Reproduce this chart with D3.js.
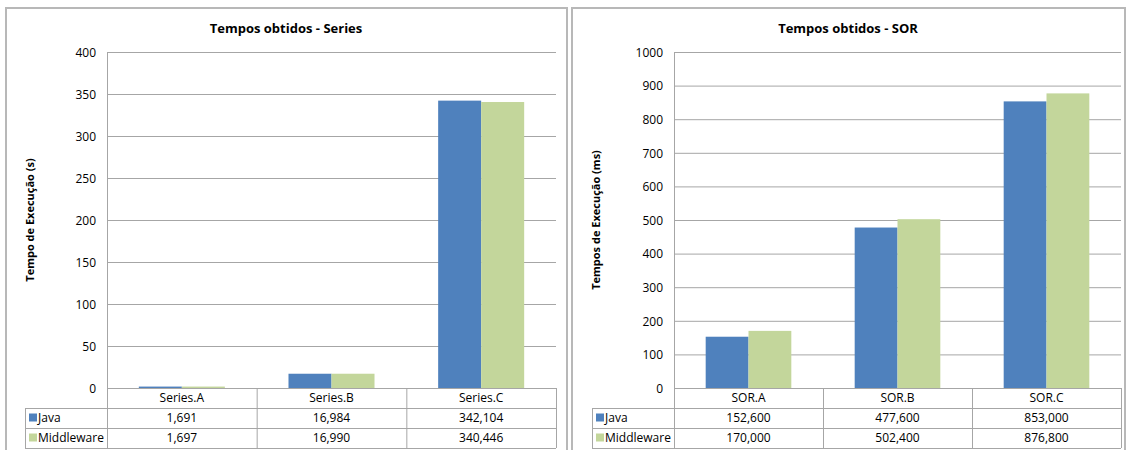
<!DOCTYPE html>
<html>
<head>
<meta charset="utf-8">
<script src="https://cdn.jsdelivr.net/npm/d3@7"></script>
<style>
  html, body { margin: 0; padding: 0; background: #fff; }
  svg { display: block; }
  text { font-family: "Open Sans", "Noto Sans", sans-serif; fill: #000; }
</style>
</head>
<body>
<svg id="chart" width="1129" height="450"></svg>
<script>
// Execution times, Series benchmark (seconds)
const seriesCategories = ["Series.A", "Series.B", "Series.C"];
const seriesJava = [1.691, 16.984, 342.104];
const seriesMiddleware = [1.697, 16.990, 340.446];
const seriesTicks = [0, 50, 100, 150, 200, 250, 300, 350, 400];

// Execution times, SOR benchmark (milliseconds)
const sorCategories = ["SOR.A", "SOR.B", "SOR.C"];
const sorJava = [152.6, 477.6, 853.0];
const sorMiddleware = [170.0, 502.4, 876.8];
const sorTicks = [0, 100, 200, 300, 400, 500, 600, 700, 800, 900, 1000];

const seriesNames = ["Java", "Middleware"];
const colors = ["#4F81BD", "#C3D69B"];

// Portuguese number format: comma as decimal separator
const pt = d3.formatLocale({ decimal: ",", thousands: ".", grouping: [3], currency: ["", ""] });
const fmt3 = pt.format(".3f");

const svg = d3.select("#chart");

function drawPanel(cfg) {
  const g = svg.append("g");
  const gridColor = "#a6a6a6";

  // outer frame
  g.append("rect")
    .attr("x", cfg.frame[0]).attr("y", cfg.frame[1])
    .attr("width", cfg.frame[2] - cfg.frame[0]).attr("height", cfg.frame[3] - cfg.frame[1])
    .attr("fill", "none").attr("stroke", "#b8b8b8").attr("stroke-width", 2);

  const x = d3.scaleBand().domain(cfg.categories).range([cfg.left, cfg.right]);
  const y = d3.scaleLinear().domain([0, d3.max(cfg.ticks)]).range([cfg.bottom, cfg.top]);
  const sub = d3.scaleBand().domain(seriesNames)
    .range([0, x.bandwidth()]).paddingOuter(0.74).paddingInner(0);

  // gridlines + tick labels via axis
  const yAxis = d3.axisLeft(y).tickValues(cfg.ticks).tickSize(cfg.right - cfg.left).tickFormat(d3.format("d"));
  const ya = g.append("g").attr("transform", `translate(${cfg.right},0)`).call(yAxis);
  ya.select(".domain").remove();
  ya.selectAll(".tick line").attr("stroke", gridColor).attr("stroke-width", 1);
  ya.selectAll(".tick text")
    .attr("x", -(cfg.right - cfg.left) - 11)
    .attr("dy", "0.35em")
    .style("font-size", "12px")
    .style("font-family", "'Open Sans', sans-serif");

  // bars
  const data = cfg.categories.map((c, i) => ({ c, vals: [cfg.java[i], cfg.mid[i]] }));
  const groups = g.selectAll(".grp").data(data).join("g")
    .attr("transform", d => `translate(${x(d.c)},0)`);
  groups.selectAll("rect").data(d => d.vals.map((v, k) => ({ v, k }))).join("rect")
    .attr("x", d => sub(seriesNames[d.k]))
    .attr("y", d => y(d.v))
    .attr("width", sub.bandwidth())
    .attr("height", d => y(0) - y(d.v))
    .attr("fill", d => colors[d.k]);

  // value axis line
  g.append("line")
    .attr("x1", cfg.left + 0.5).attr("x2", cfg.left + 0.5)
    .attr("y1", cfg.top).attr("y2", cfg.bottom + 3 * cfg.rowH)
    .attr("stroke", gridColor);

  // data table
  const rowY = [cfg.bottom, cfg.bottom + cfg.rowH, cfg.bottom + 2 * cfg.rowH, cfg.bottom + 3 * cfg.rowH];
  const tbl = g.append("g").attr("stroke", gridColor).attr("stroke-width", 1);
  tbl.append("line").attr("x1", cfg.left).attr("x2", cfg.right).attr("y1", rowY[0] + 0.5).attr("y2", rowY[0] + 0.5);
  [1, 2, 3].forEach(r => {
    tbl.append("line").attr("x1", cfg.legendLeft).attr("x2", cfg.right)
      .attr("y1", rowY[r] + 0.5).attr("y2", rowY[r] + 0.5);
  });
  tbl.append("line").attr("x1", cfg.legendLeft + 0.5).attr("x2", cfg.legendLeft + 0.5)
    .attr("y1", rowY[1]).attr("y2", rowY[3]);
  cfg.categories.forEach(c => {
    const xe = x(c) + x.bandwidth();
    tbl.append("line").attr("x1", xe + 0.5).attr("x2", xe + 0.5).attr("y1", rowY[0]).attr("y2", rowY[3]);
  });

  // category labels
  g.selectAll(".cat").data(cfg.categories).join("text")
    .attr("x", d => x(d) + x.bandwidth() / 2)
    .attr("y", rowY[0] + cfg.rowH / 2)
    .attr("dy", "0.35em").attr("text-anchor", "middle")
    .style("font-size", "12px").text(d => d);

  // series rows: legend key + values
  [cfg.java, cfg.mid].forEach((vals, k) => {
    const cy = rowY[k + 1] + cfg.rowH / 2;
    g.append("rect").attr("x", cfg.legendLeft + 4).attr("y", cy - 4.5)
      .attr("width", 8).attr("height", 8).attr("fill", colors[k]);
    g.append("text").attr("x", cfg.legendLeft + 13).attr("y", cy).attr("dy", "0.35em")
      .style("font-size", "12px").text(seriesNames[k]);
    g.selectAll(null).data(vals).join("text")
      .attr("x", (d, i) => x(cfg.categories[i]) + x.bandwidth() / 2)
      .attr("y", cy).attr("dy", "0.35em").attr("text-anchor", "middle")
      .style("font-size", "12px").text(d => fmt3(d));
  });

  // title
  g.append("text").attr("x", cfg.titleX).attr("y", 33).attr("text-anchor", "middle")
    .style("font-size", "13px").style("font-weight", "bold").text(cfg.title);

  // y axis title
  g.append("text")
    .attr("transform", `translate(${cfg.yTitleX},${(cfg.top + cfg.bottom) / 2}) rotate(-90)`)
    .attr("text-anchor", "middle")
    .style("font-size", "11px").style("font-weight", "bold").text(cfg.yTitle);
}

drawPanel({
  frame: [6, 8, 567, 460],
  left: 107, right: 556, top: 52, bottom: 388, rowH: 20, legendLeft: 25,
  categories: seriesCategories, java: seriesJava, mid: seriesMiddleware, ticks: seriesTicks,
  title: "Tempos obtidos - Series", titleX: 286,
  yTitle: "Tempo de Execução (s)", yTitleX: 34
});

drawPanel({
  frame: [572, 8, 1125, 460],
  left: 674, right: 1121, top: 52, bottom: 388, rowH: 20, legendLeft: 592,
  categories: sorCategories, java: sorJava, mid: sorMiddleware, ticks: sorTicks,
  title: "Tempos obtidos - SOR", titleX: 848,
  yTitle: "Tempos de Execução (ms)", yTitleX: 600
});
</script>
</body>
</html>
